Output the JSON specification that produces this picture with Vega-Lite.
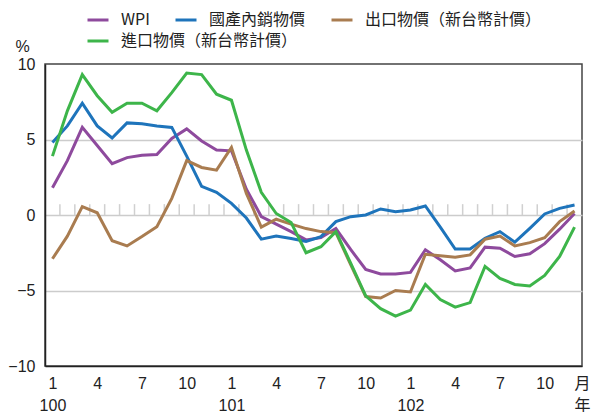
{
  "$schema": "https://vega.github.io/schema/vega-lite/v6.json",
  "width": 537,
  "height": 302,
  "autosize": {"type": "none"},
  "padding": {"left": 45, "top": 64, "right": 15, "bottom": 46},
  "config": {
    "view": {"stroke": "#444444", "strokeWidth": 1.5},
    "font": "Liberation Sans",
    "legend": {
      "orient": "none",
      "direction": "horizontal",
      "padding": 0,
      "symbolType": "stroke",
      "symbolSize": 441,
      "symbolStrokeWidth": 3,
      "labelFontSize": 16,
      "labelFont": "Noto Sans CJK TC",
      "labelColor": "#222222",
      "labelOffset": 11,
      "columnPadding": 19,
      "labelLimit": 400
    }
  },
  "datasets": {
    "prices": [
      {"m": 1, "WPI": 1.8, "國產內銷物價": 4.8, "出口物價（新台幣計價）": -2.9, "進口物價（新台幣計價）": 3.9},
      {"m": 2, "WPI": 3.6, "國產內銷物價": 5.9, "出口物價（新台幣計價）": -1.4, "進口物價（新台幣計價）": 6.9},
      {"m": 3, "WPI": 5.8, "國產內銷物價": 7.4, "出口物價（新台幣計價）": 0.55, "進口物價（新台幣計價）": 9.3},
      {"m": 4, "WPI": 4.6, "國產內銷物價": 5.9, "出口物價（新台幣計價）": 0.15, "進口物價（新台幣計價）": 7.9},
      {"m": 5, "WPI": 3.4, "國產內銷物價": 5.1, "出口物價（新台幣計價）": -1.7, "進口物價（新台幣計價）": 6.8},
      {"m": 6, "WPI": 3.8, "國產內銷物價": 6.1, "出口物價（新台幣計價）": -2.05, "進口物價（新台幣計價）": 7.4},
      {"m": 7, "WPI": 3.95, "國產內銷物價": 6.05, "出口物價（新台幣計價）": -1.43, "進口物價（新台幣計價）": 7.4},
      {"m": 8, "WPI": 4.0, "國產內銷物價": 5.9, "出口物價（新台幣計價）": -0.77, "進口物價（新台幣計價）": 6.9},
      {"m": 9, "WPI": 5.07, "國產內銷物價": 5.8, "出口物價（新台幣計價）": 1.1, "進口物價（新台幣計價）": 8.1},
      {"m": 10, "WPI": 5.7, "國產內銷物價": 3.9, "出口物價（新台幣計價）": 3.6, "進口物價（新台幣計價）": 9.4},
      {"m": 11, "WPI": 4.9, "國產內銷物價": 1.9, "出口物價（新台幣計價）": 3.15, "進口物價（新台幣計價）": 9.3},
      {"m": 12, "WPI": 4.3, "國產內銷物價": 1.5, "出口物價（新台幣計價）": 2.97, "進口物價（新台幣計價）": 8.0},
      {"m": 13, "WPI": 4.25, "國產內銷物價": 0.77, "出口物價（新台幣計價）": 4.47, "進口物價（新台幣計價）": 7.6},
      {"m": 14, "WPI": 1.7, "國產內銷物價": -0.2, "出口物價（新台幣計價）": 1.43, "進口物價（新台幣計價）": 4.3},
      {"m": 15, "WPI": -0.1, "國產內銷物價": -1.6, "出口物價（新台幣計價）": -0.8, "進口物價（新台幣計價）": 1.5},
      {"m": 16, "WPI": -0.6, "國產內銷物價": -1.4, "出口物價（新台幣計價）": -0.28, "進口物價（新台幣計價）": 0.1},
      {"m": 17, "WPI": -1.1, "國產內銷物價": -1.55, "出口物價（新台幣計價）": -0.6, "進口物價（新台幣計價）": -0.5},
      {"m": 18, "WPI": -1.65, "國產內銷物價": -1.75, "出口物價（新台幣計價）": -0.9, "進口物價（新台幣計價）": -2.5},
      {"m": 19, "WPI": -1.5, "國產內銷物價": -1.43, "出口物價（新台幣計價）": -1.1, "進口物價（新台幣計價）": -2.1},
      {"m": 20, "WPI": -0.9, "國產內銷物價": -0.44, "出口物價（新台幣計價）": -1.17, "進口物價（新台幣計價）": -1.1},
      {"m": 21, "WPI": -2.3, "國產內銷物價": -0.11, "出口物價（新台幣計價）": -3.3, "進口物價（新台幣計價）": -3.2},
      {"m": 22, "WPI": -3.6, "國產內銷物價": 0.0, "出口物價（新台幣計價）": -5.4, "進口物價（新台幣計價）": -5.35},
      {"m": 23, "WPI": -3.9, "國產內銷物價": 0.4, "出口物價（新台幣計價）": -5.5, "進口物價（新台幣計價）": -6.2},
      {"m": 24, "WPI": -3.9, "國產內銷物價": 0.22, "出口物價（新台幣計價）": -5.0, "進口物價（新台幣計價）": -6.7},
      {"m": 25, "WPI": -3.8, "國產內銷物價": 0.33, "出口物價（新台幣計價）": -5.1, "進口物價（新台幣計價）": -6.3},
      {"m": 26, "WPI": -2.3, "國產內銷物價": 0.6, "出口物價（新台幣計價）": -2.6, "進口物價（新台幣計價）": -4.6},
      {"m": 27, "WPI": -2.97, "國產內銷物價": -0.8, "出口物價（新台幣計價）": -2.7, "進口物價（新台幣計價）": -5.6},
      {"m": 28, "WPI": -3.7, "國產內銷物價": -2.25, "出口物價（新台幣計價）": -2.8, "進口物價（新台幣計價）": -6.1},
      {"m": 29, "WPI": -3.5, "國產內銷物價": -2.25, "出口物價（新台幣計價）": -2.64, "進口物價（新台幣計價）": -5.8},
      {"m": 30, "WPI": -2.13, "國產內銷物價": -1.54, "出口物價（新台幣計價）": -1.6, "進口物價（新台幣計價）": -3.4},
      {"m": 31, "WPI": -2.2, "國產內銷物價": -1.1, "出口物價（新台幣計價）": -1.39, "進口物價（新台幣計價）": -4.2},
      {"m": 32, "WPI": -2.75, "國產內銷物價": -1.8, "出口物價（新台幣計價）": -2.05, "進口物價（新台幣計價）": -4.6},
      {"m": 33, "WPI": -2.57, "國產內銷物價": -0.88, "出口物價（新台幣計價）": -1.83, "進口物價（新台幣計價）": -4.7},
      {"m": 34, "WPI": -1.9, "國產內銷物價": 0.07, "出口物價（新台幣計價）": -1.5, "進口物價（新台幣計價）": -4.0},
      {"m": 35, "WPI": -0.94, "國產內銷物價": 0.44, "出口物價（新台幣計價）": -0.44, "進口物價（新台幣計價）": -2.75},
      {"m": 36, "WPI": 0.1, "國產內銷物價": 0.66, "出口物價（新台幣計價）": 0.26, "進口物價（新台幣計價）": -0.8}
    ]
  },
  "layer": [
    {
      "data": {"values": [
        {"b": 1.5}, {"b": 2.5}, {"b": 3.5}, {"b": 4.5}, {"b": 5.5}, {"b": 6.5}, {"b": 7.5},
        {"b": 8.5}, {"b": 9.5}, {"b": 10.5}, {"b": 11.5}, {"b": 12.5}, {"b": 13.5}, {"b": 14.5},
        {"b": 15.5}, {"b": 16.5}, {"b": 17.5}, {"b": 18.5}, {"b": 19.5}, {"b": 20.5}, {"b": 21.5},
        {"b": 22.5}, {"b": 23.5}, {"b": 24.5}, {"b": 25.5}, {"b": 26.5}, {"b": 27.5}, {"b": 28.5},
        {"b": 29.5}, {"b": 30.5}, {"b": 31.5}, {"b": 32.5}, {"b": 33.5}, {"b": 34.5}, {"b": 35.5}
      ]},
      "mark": {"type": "rule", "color": "#d0d0d0", "strokeWidth": 1.5},
      "encoding": {
        "x": {
          "field": "b",
          "type": "quantitative",
          "scale": {"domain": [0.5, 36.5], "nice": false, "zero": false},
          "axis": {
            "values": [1, 4, 7, 10, 13, 16, 19, 22, 25, 28, 31, 34],
            "labelExpr": "datum.value == 1 ? ['1', '100'] : datum.value == 13 ? ['1', '101'] : datum.value == 25 ? ['1', '102'] : '' + ((datum.value - 1) % 12 + 1)",
            "grid": false,
            "ticks": false,
            "domainColor": "#222222",
            "domainWidth": 1.5,
            "labelFontSize": 16,
            "labelColor": "#222222",
            "labelPadding": 9,
            "labelBaseline": "top",
            "labelLineHeight": 22,
            "labelFlush": false,
            "labelOverlap": false,
            "title": ["月", "年"],
            "titleFont": "Noto Sans CJK TC",
            "titleFontSize": 16,
            "titleFontWeight": "normal",
            "titleColor": "#222222",
            "titleAlign": "left",
            "titleBaseline": "top",
            "titleLineHeight": 22,
            "titleX": 529,
            "titleY": 9
          }
        },
        "y": {
          "datum": 0,
          "type": "quantitative",
          "scale": {"domain": [-10, 10], "nice": false},
          "axis": {
            "values": [-10, -5, 0, 5, 10],
            "grid": true,
            "gridColor": "#cccccc",
            "gridWidth": 1.5,
            "gridOpacity": {"condition": {"test": "abs(datum.value) == 10", "value": 0}, "value": 1},
            "ticks": false,
            "domainColor": "#222222",
            "domainWidth": 1.5,
            "labelFontSize": 16,
            "labelColor": "#222222",
            "labelPadding": 10,
            "title": "%",
            "titleAngle": 0,
            "titleFontSize": 16,
            "titleFontWeight": "normal",
            "titleColor": "#222222",
            "titleAlign": "center",
            "titleBaseline": "middle",
            "titleX": -23,
            "titleY": -18
          }
        },
        "y2": {"datum": 0.72}
      }
    },
    {
      "data": {"name": "prices"},
      "transform": [
        {"fold": ["WPI", "國產內銷物價", "出口物價（新台幣計價）"], "as": ["s", "v"]}
      ],
      "mark": {"type": "line", "strokeWidth": 3},
      "encoding": {
        "x": {"field": "m", "type": "quantitative"},
        "y": {"field": "v", "type": "quantitative"},
        "color": {
          "field": "s",
          "type": "nominal",
          "scale": {
            "domain": ["WPI", "國產內銷物價", "出口物價（新台幣計價）"],
            "range": ["#8E4A9D", "#1E74BB", "#A97C50"]
          },
          "legend": {"title": null, "legendX": 41, "legendY": -56}
        }
      }
    },
    {
      "data": {"name": "prices"},
      "transform": [
        {"fold": ["進口物價（新台幣計價）"], "as": ["s", "v"]}
      ],
      "mark": {"type": "line", "strokeWidth": 3},
      "encoding": {
        "x": {"field": "m", "type": "quantitative"},
        "y": {"field": "v", "type": "quantitative"},
        "stroke": {
          "field": "s",
          "type": "nominal",
          "scale": {
            "domain": ["進口物價（新台幣計價）"],
            "range": ["#3DB54A"]
          },
          "legend": {"title": null, "legendX": 41, "legendY": -35}
        }
      }
    }
  ]
}
